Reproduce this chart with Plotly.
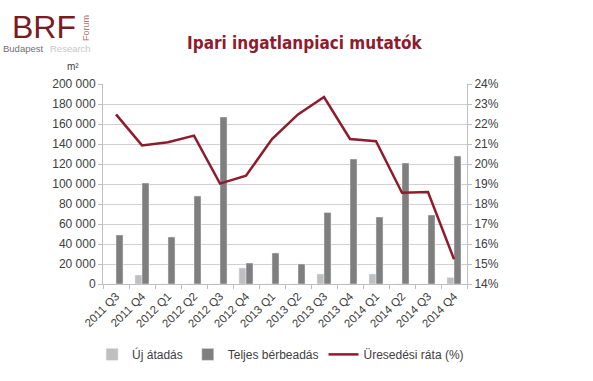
import plotly.graph_objects as go

categories = ["2011 Q3", "2011 Q4", "2012 Q1", "2012 Q2", "2012 Q3", "2012 Q4", "2013 Q1",
              "2013 Q2", "2013 Q3", "2013 Q4", "2014 Q1", "2014 Q2", "2014 Q3", "2014 Q4"]
uj_atadas = [0, 9000, 0, 0, 0, 16000, 0, 0, 10000, 0, 10000, 0, 0, 6500]
teljes_berbeadas = [49000, 101000, 47000, 88000, 167000, 21000, 31000,
                    20000, 71500, 125000, 67000, 121000, 69000, 128000]
uresedesi_rata = [22.48, 20.93, 21.09, 21.42, 19.02, 19.41, 21.25,
                  22.48, 23.35, 21.25, 21.14, 18.56, 18.6, 15.24]
left_ticks = list(range(0, 200001, 20000))
left_ticktext = ["0" if v == 0 else f"{v // 1000} 000" for v in left_ticks]
right_ticks = list(range(14, 25))
right_ticktext = [f"{v}%" for v in right_ticks]

RED = "#8e1b2e"
TXT = "#404040"
FONT = "Liberation Sans, Arial, sans-serif"

fig = go.Figure()
fig.add_trace(go.Bar(x=categories, y=uj_atadas, name="Új átadás", marker_color="#bfbfbf",
                     offsetgroup="a"))
fig.add_trace(go.Bar(x=categories, y=teljes_berbeadas, name="Teljes bérbeadás",
                     marker_color="#7f7f7f", offsetgroup="b"))
fig.add_trace(go.Scatter(x=categories, y=uresedesi_rata, name="Üresedési ráta (%)", mode="lines",
                         line=dict(color=RED, width=2.5), yaxis="y2"))

fig.update_layout(
    width=593, height=381,
    margin=dict(l=103, r=126, t=84, b=93),
    paper_bgcolor="white", plot_bgcolor="white",
    font=dict(family=FONT, size=12, color=TXT),
    barmode="group", bargap=0.46, bargroupgap=0,
    showlegend=True,
    legend=dict(orientation="h", x=-0.03, xanchor="left", y=-(345 - 288) / 204,
                yanchor="top", font=dict(size=12, color=TXT), tracegroupgap=0,
                itemwidth=30, bgcolor="rgba(0,0,0,0)"),
    xaxis=dict(type="category", tickangle=-45, showgrid=False, showline=True,
               linecolor="#bfbfbf", ticks="outside", tickson="boundaries", ticklen=4,
               tickcolor="#bfbfbf", tickfont=dict(size=11.5, color=TXT), automargin=False),
    yaxis=dict(range=[0, 200000], tickvals=left_ticks, ticktext=left_ticktext,
               showgrid=True, gridcolor="#d0d0d0", gridwidth=1, showline=True,
               linecolor="#bfbfbf", ticks="outside", ticklen=4, tickcolor="#bfbfbf",
               zeroline=False, tickfont=dict(size=12, color=TXT), automargin=False),
    yaxis2=dict(range=[14, 24], tickvals=right_ticks, ticktext=right_ticktext,
                overlaying="y", side="right", showgrid=False, showline=True,
                linecolor="#bfbfbf", ticks="outside", ticklen=4, tickcolor="#bfbfbf",
                zeroline=False, tickfont=dict(size=12, color=TXT), automargin=False),
)


def px(x, y):
    return (x - 103) / 364, (288 - y) / 204


tx, ty = px(305, 42)
fig.add_annotation(text="<b>Ipari ingatlanpiaci mutatók</b>", xref="paper", yref="paper",
                   x=tx, y=ty, showarrow=False, xanchor="center", yanchor="middle",
                   font=dict(family="DejaVu Sans Condensed, Liberation Sans, sans-serif",
                             size=17, color=RED))
lx, ly = px(10, 26)
fig.add_annotation(text="BRF", xref="paper", yref="paper", x=lx, y=ly, xanchor="left",
                   yanchor="middle", showarrow=False,
                   font=dict(family="Liberation Sans, Arial, sans-serif", size=32, color="#7a1a22"))
fx, fy = px(86, 27)
fig.add_annotation(text="Forum", xref="paper", yref="paper", x=fx, y=fy, xanchor="center",
                   yanchor="middle", showarrow=False, textangle=-90,
                   font=dict(family=FONT, size=9, color="#b07070"))
bx, by = px(1, 48)
fig.add_annotation(text="Budapest", xref="paper", yref="paper", x=bx, y=by, xanchor="left",
                   yanchor="middle", showarrow=False,
                   font=dict(family=FONT, size=9.5, color="#707070"))
rx, ry = px(48, 48)
fig.add_annotation(text="Research", xref="paper", yref="paper", x=rx, y=ry, xanchor="left",
                   yanchor="middle", showarrow=False,
                   font=dict(family=FONT, size=9.5, color="#c8c8c8"))
mx, my = px(81, 66)
fig.add_annotation(text="m²", xref="paper", yref="paper", x=mx, y=my, xanchor="right",
                   yanchor="middle", showarrow=False,
                   font=dict(family=FONT, size=10, color=TXT))

fig.write_html("out.html", config={"displayModeBar": False},
               post_script="document.body.style.margin='0';")
